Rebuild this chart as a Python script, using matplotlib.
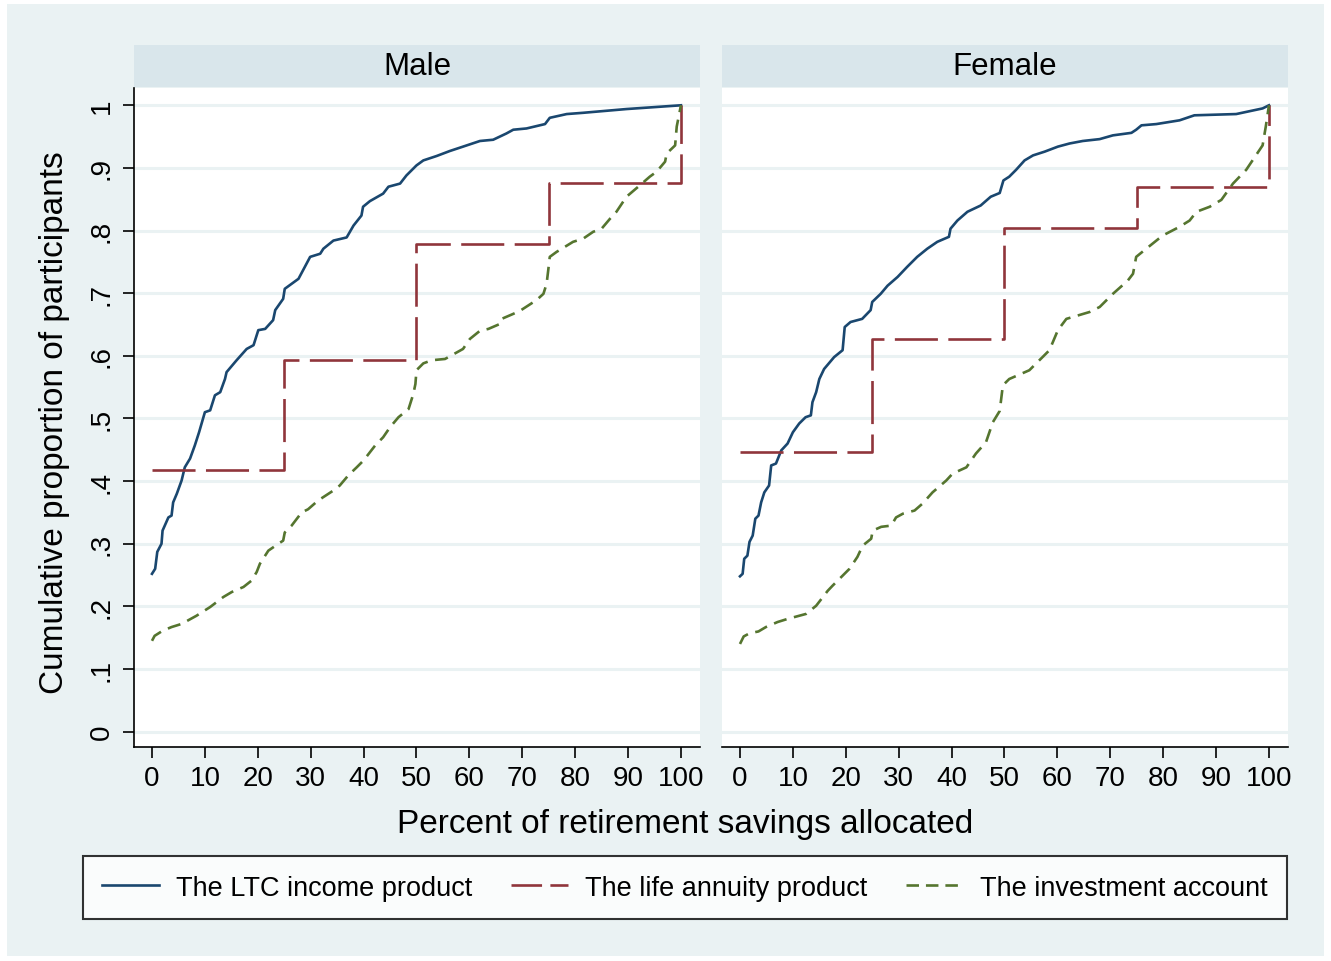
import matplotlib
matplotlib.use("Agg")
import matplotlib.pyplot as plt
import numpy as np
from matplotlib.lines import Line2D
from matplotlib.patches import Rectangle

plt.rcParams['font.family'] = ['Liberation Sans', 'DejaVu Sans']
plt.rcParams['lines.scale_dashes'] = False

# ---- data ----
panels = ["Male", "Female"]

male_ltc = [(0, .252), (0.6, .26), (1.0, .287), (1.8, .30), (2.0, .321), (3.1, .342), (3.7, .345),
            (4.0, .366), (4.7, .380), (5.6, .401), (6.2, .422), (7.2, .436), (8.1, .457), (8.9, .478),
            (10.0, .510), (11.0, .513), (11.9, .537), (12.9, .542), (13.8, .563), (14.1, .574),
            (16.0, .593), (17.9, .611), (19.2, .617), (20.1, .641), (21.4, .643), (22.9, .657),
            (23.3, .673), (24.8, .691), (25.1, .707), (27.7, .723), (29.9, .758), (31.8, .763),
            (32.4, .771), (34.3, .784), (36.8, .789), (38.1, .808), (39.6, .824), (39.9, .838),
            (41.2, .847), (43.7, .859), (44.7, .870), (46.9, .875), (48.1, .888), (50.0, .904),
            (51.3, .912), (53.8, .919), (56.3, .927), (58.8, .934), (62.0, .943), (64.5, .945),
            (67.0, .955), (68.3, .961), (70.8, .963), (74.3, .970), (75.2, .980), (78.4, .986),
            (81.5, .988), (89.7, .994), (100, 1.0)]

male_annuity_x = [0, 25, 50, 75, 100]
male_annuity_y = [.418, .594, .778, .876, 1.0]

male_invest = [(0, .145), (0.5, .153), (2, .161), (3.7, .167), (5.6, .172), (8.4, .185), (11.0, .199),
               (13.5, .215), (15.1, .223), (17.3, .231), (18.8, .241), (19.8, .255), (20.4, .268),
               (22.0, .289), (23.9, .30), (24.8, .305), (25.1, .318), (26.4, .329), (28.3, .350),
               (29.5, .355), (31.4, .369), (34.3, .385), (35.5, .393), (37.1, .409), (38.7, .422),
               (40.0, .433), (42.2, .457), (43.7, .470), (45.0, .486), (46.6, .502), (48.5, .515),
               (49.4, .539), (49.8, .555), (50.0, .577), (51.3, .588), (52.9, .593), (55.4, .595),
               (58.8, .611), (60.1, .627), (62.0, .640), (63.6, .643), (65.8, .651), (66.1, .659),
               (68.3, .667), (69.6, .672), (72.7, .689), (74.0, .699), (74.6, .715), (74.9, .736),
               (75.2, .758), (76.5, .766), (79.6, .782), (81.5, .787), (83.4, .798), (85.0, .803),
               (86.6, .819), (87.8, .830), (89.7, .854), (92.2, .872), (94.1, .886), (95.4, .894),
               (97.0, .910), (97.3, .923), (98.9, .936), (99.2, .966), (100, 1.0)]

female_ltc = [(0, .248), (0.5, .252), (0.8, .276), (1.4, .281), (1.8, .303), (2.4, .313), (2.9, .340),
              (3.5, .345), (4.0, .366), (4.6, .382), (5.5, .393), (5.9, .425), (6.8, .428), (7.8, .449),
              (9.0, .460), (10.0, .478), (11.2, .492), (12.4, .502), (13.4, .505), (13.7, .526),
              (14.4, .542), (15.0, .563), (15.9, .579), (17.8, .598), (19.4, .609), (19.8, .646),
              (20.9, .654), (23.1, .659), (24.7, .673), (25.0, .686), (26.6, .699), (27.9, .712),
              (29.8, .726), (31.6, .742), (33.5, .758), (35.4, .771), (37.3, .782), (39.5, .790),
              (39.8, .803), (41.1, .816), (43.0, .830), (45.5, .840), (47.4, .854), (49.1, .860),
              (49.8, .880), (50.9, .886), (52.2, .897), (53.8, .912), (55.4, .920), (57.6, .926),
              (60.1, .934), (62.3, .939), (64.8, .943), (68.0, .946), (70.5, .952), (74.0, .956),
              (74.9, .961), (75.9, .968), (78.7, .970), (83.1, .976), (85.9, .984), (93.8, .986),
              (98.8, .995), (100, 1.0)]

female_annuity_x = [0, 25, 50, 75, 100]
female_annuity_y = [.446, .627, .804, .870, 1.0]

female_invest = [(0, .140), (0.7, .152), (1.8, .157), (3.5, .160), (4.9, .167), (7.1, .175), (9.0, .180),
                 (12.5, .188), (14.4, .201), (16.6, .225), (17.5, .233), (19.4, .249), (20.7, .260),
                 (22.2, .279), (23.2, .297), (24.8, .308), (25.1, .321), (26.7, .327), (28.6, .329),
                 (29.5, .342), (30.8, .348), (33.0, .353), (34.5, .364), (36.4, .382), (39.0, .401),
                 (40.2, .412), (42.8, .422), (44.6, .444), (46.5, .462), (47.8, .494), (49.1, .512),
                 (49.7, .553), (50.9, .563), (54.7, .577), (57.2, .598), (58.5, .609), (60.1, .641),
                 (61.7, .659), (66.1, .670), (68.0, .678), (70.5, .699), (73.3, .720), (74.3, .731),
                 (74.9, .758), (76.8, .771), (79.9, .792), (83.1, .806), (85.0, .816), (86.3, .830),
                 (88.8, .838), (91.0, .849), (93.2, .875), (95.7, .897), (98.8, .936), (99.4, .966),
                 (100, 1.0)]

series_names = ["The LTC income product", "The life annuity product", "The investment account"]
x_ticks = list(range(0, 101, 10))
y_ticks = [0, .1, .2, .3, .4, .5, .6, .7, .8, .9, 1]
y_tick_labels = ["0", ".1", ".2", ".3", ".4", ".5", ".6", ".7", ".8", ".9", "1"]

# ---- style ----
W, H = 1331, 962
bg = "#EAF2F3"
strip_col = "#D9E6EB"
grid_col = "#EAF2F3"
c_ltc, c_ann, c_inv = "#1A476F", "#90353B", "#55752F"
lw = 1.9
ann_dash = (31, 7.5)
inv_dash = (9.5, 5.5)

fig = plt.figure(figsize=(W / 100, H / 100), dpi=100)
fig.patch.set_facecolor("white")
fig.patches.append(Rectangle((7 / W, 5 / H), (W - 14) / W, (H - 10) / H, transform=fig.transFigure,
                             facecolor=bg, edgecolor="none", zorder=-10))


def fx(px):
    return px / W


def fy(py):
    return 1 - py / H


data = {
    "Male": (male_ltc, male_annuity_x, male_annuity_y, male_invest),
    "Female": (female_ltc, female_annuity_x, female_annuity_y, female_invest),
}
lefts = [134, 722]
pw = 566
top, bottom = 89, 748

for i, name in enumerate(panels):
    ltc, ax_x, ax_y, inv = data[name]
    ltc = np.array(ltc)
    inv = np.array(inv)
    left = lefts[i]
    ax = fig.add_axes([fx(left), fy(bottom), pw / W, (bottom - top) / H])
    ax.set_facecolor("white")
    ax.set_xlim(-3.4, 103.6)
    ax.set_ylim(-0.0245, 1.0276)
    for yv in y_ticks:
        ax.axhline(yv, color=grid_col, lw=2.2, zorder=0)
    ax.plot(ltc[:, 0], ltc[:, 1], color=c_ltc, lw=lw, zorder=3)
    ax.plot(ax_x, ax_y, color=c_ann, lw=lw, drawstyle="steps-post", dashes=ann_dash, zorder=4)
    ax.plot(inv[:, 0], inv[:, 1], color=c_inv, lw=lw, dashes=inv_dash, zorder=5)

    for s in ["top", "right"]:
        ax.spines[s].set_visible(False)
    ax.spines["bottom"].set_linewidth(1.2)
    ax.set_xticks(x_ticks)
    ax.tick_params(axis="x", length=8, width=1.2, pad=5, labelsize=20)
    if i == 0:
        ax.spines["left"].set_linewidth(1.2)
        ax.set_yticks(y_ticks)
        ax.set_yticklabels(y_tick_labels, rotation=90, va="center")
        ax.tick_params(axis="y", length=8, width=1.2, pad=6, labelsize=20)
    else:
        ax.spines["left"].set_visible(False)
        ax.set_yticks([])

    # strip header
    sax = fig.add_axes([fx(left), fy(88), pw / W, 42 / H])
    sax.set_facecolor(strip_col)
    sax.set_xticks([])
    sax.set_yticks([])
    for s in sax.spines.values():
        s.set_visible(False)
    sax.text(0.5, 0.5, name, ha="center", va="center", fontsize=22.5, transform=sax.transAxes)

fig.text(fx(55), fy(423), "Cumulative proportion of participants", rotation=90,
         ha="center", va="center", fontsize=24)
fig.text(fx(685), fy(825), "Percent of retirement savings allocated", ha="center", va="center", fontsize=24)

handles = [Line2D([], [], color=c_ltc, lw=lw),
           Line2D([], [], color=c_ann, lw=lw, dashes=(22, 6)),
           Line2D([], [], color=c_inv, lw=lw, dashes=(9, 5))]
leg = fig.legend(handles, series_names, loc="center", ncol=3, mode="expand",
                 bbox_to_anchor=(fx(83), fy(920), 1204 / W, 63 / H), borderaxespad=0,
                 fontsize=19.5, frameon=True, fancybox=False, handlelength=2.1,
                 handletextpad=0.65, borderpad=0.7, edgecolor="black")
leg.get_frame().set_linewidth(1.5)
leg.get_frame().set_facecolor("white")

fig.savefig("out.png", dpi=100, facecolor=fig.get_facecolor())
